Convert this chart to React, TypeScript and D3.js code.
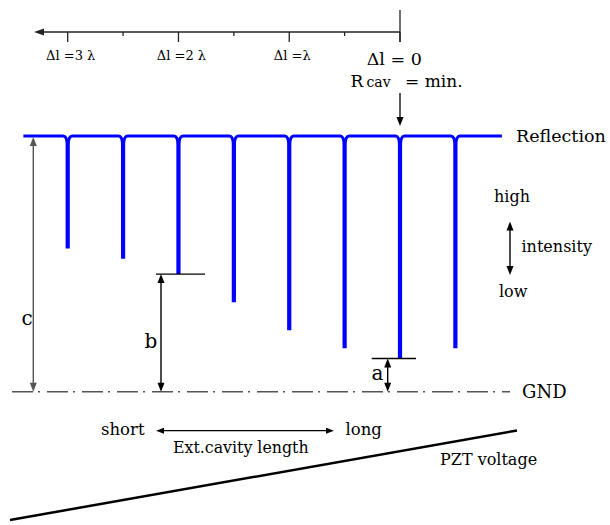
import React from 'react';
import * as d3 from 'd3';

const W = 610;
const H = 525;

// Cavity detuning (in wavelengths) of each reflection dip
const dipDetuning = [3, 2.5, 2, 1.5, 1, 0.5, 0, -0.5];
// Reflected intensity at the bottom of each dip (GND = 0, off-resonance = 1)
const dipIntensity = [0.56, 0.52, 0.46, 0.35, 0.24, 0.17, 0.13, 0.17];
// Extent of the reflection trace, in detuning units
const traceExtent = [3.4, -0.92];
// Top detuning axis
const axisTicks = [3, 2.5, 2, 1.5, 1, 0.5, 0];
const axisLabelAt = [3, 2, 1];
const axisLabelText = ['Δl =3 λ', 'Δl =2 λ', 'Δl =λ'];

const FONT = '"DejaVu Serif", serif';

type Dir = 'up' | 'down' | 'left' | 'right';
function head(tx: number, ty: number, dir: Dir, len = 9, half = 3.5): string {
  const pts: [number, number][] =
    dir === 'up'
      ? [[tx, ty], [tx - half, ty + len], [tx + half, ty + len]]
      : dir === 'down'
      ? [[tx, ty], [tx - half, ty - len], [tx + half, ty - len]]
      : dir === 'left'
      ? [[tx, ty], [tx + len, ty - half], [tx + len, ty + half]]
      : [[tx, ty], [tx - len, ty - half], [tx - len, ty + half]];
  return pts.map((p) => p.join(',')).join(' ');
}

function VArrow({ x, y1, y2, color = '#000', w = 1.4 }: { x: number; y1: number; y2: number; color?: string; w?: number }) {
  return (
    <g>
      <line x1={x} x2={x} y1={y1 + 6} y2={y2 - 6} stroke={color} strokeWidth={w} />
      <polygon points={head(x, y1, 'up')} fill={color} />
      <polygon points={head(x, y2, 'down')} fill={color} />
    </g>
  );
}

export default function App() {
  const x = d3.scaleLinear().domain([3, 0]).range([67.7, 400]);
  const y = d3.scaleLinear().domain([0, 1]).range([391.7, 136]);

  const y1 = y(1);
  const p = d3.path();
  p.moveTo(x(traceExtent[0]), y1);
  dipDetuning.forEach((d, i) => {
    const cx = x(d);
    const yb = y(dipIntensity[i]) - 1.5;
    p.lineTo(cx - 4.5, y1);
    p.quadraticCurveTo(cx - 0.6, y1, cx - 0.6, y1 + 9);
    p.lineTo(cx - 0.6, yb);
    p.lineTo(cx + 0.6, yb);
    p.lineTo(cx + 0.6, y1 + 9);
    p.quadraticCurveTo(cx + 0.6, y1, cx + 4.5, y1);
  });
  p.lineTo(x(traceExtent[1]), y1);

  const yAxis = 32;
  const y0 = y(0);
  const yb = y(dipIntensity[2]);
  const ya = y(dipIntensity[6]);

  return (
    <svg
      width={W}
      height={H}
      style={{ position: 'absolute', left: 0, top: 0, background: '#fff' }}
      fontFamily={FONT}
    >
      {/* detuning axis */}
      <line x1={x(0)} x2={42} y1={yAxis} y2={yAxis} stroke="#222" strokeWidth={1.3} />
      <polygon points={head(34, yAxis, 'left', 10, 3.5)} fill="#222" />
      {axisTicks.map((t) => (
        <line
          key={t}
          x1={x(t)}
          x2={x(t)}
          y1={yAxis}
          y2={yAxis + (Number.isInteger(t) ? 10 : 4)}
          stroke="#222"
          strokeWidth={1.3}
        />
      ))}
      <line x1={x(0)} x2={x(0)} y1={10} y2={42} stroke="#222" strokeWidth={1.3} />
      {axisLabelAt.map((t, i) => (
        <text key={t} x={x(t) + 3} y={59.5} fontSize={13} textAnchor="middle" fill="#000">
          {axisLabelText[i]}
        </text>
      ))}

      <text x={366.7} y={65} fontSize={17.5} fill="#000">Δl = 0</text>
      <text y={86.5} fill="#000">
        <tspan x={350.5} fontSize={17}>R</tspan>
        <tspan x={366.5} fontSize={14}>cav</tspan>
        <tspan x={405} fontSize={17}>= min.</tspan>
      </text>
      <line x1={x(0)} x2={x(0)} y1={93} y2={118} stroke="#000" strokeWidth={1.3} />
      <polygon points={head(x(0), 126, 'down', 9, 3.5)} fill="#000" />

      {/* ground reference */}
      <line
        x1={12}
        x2={510}
        y1={y0}
        y2={y0}
        stroke="#555"
        strokeWidth={1.5}
        strokeDasharray="21 5 2 7"
      />

      {/* reflection trace */}
      <path d={p.toString()} fill="none" stroke="#0000ff" strokeWidth={3} strokeLinejoin="miter" />

      {/* c: full reflection level */}
      <VArrow x={33.3} y1={y1 + 1} y2={y0} color="#555" />
      <text x={27} y={325} fontSize={20} textAnchor="middle" fill="#000">c</text>

      {/* b: intermediate dip */}
      <line x1={156} x2={205} y1={yb} y2={yb} stroke="#000" strokeWidth={1.4} />
      <VArrow x={161} y1={yb} y2={y0} />
      <text x={151} y={348} fontSize={20} textAnchor="middle" fill="#000">b</text>

      {/* a: deepest dip */}
      <line x1={371.7} x2={416} y1={ya} y2={ya} stroke="#000" strokeWidth={1.4} />
      <VArrow x={387.7} y1={ya} y2={y0} />
      <text x={377.5} y={379.5} fontSize={20} textAnchor="middle" fill="#000">a</text>

      {/* right-hand labels */}
      <text x={516} y={142} fontSize={17.5} fill="#000">Reflection</text>
      <text x={494} y={202} fontSize={16} fill="#000">high</text>
      <VArrow x={510} y1={221.5} y2={275} />
      <text x={521.5} y={252} fontSize={16} fill="#000">intensity</text>
      <text x={499} y={297} fontSize={16} fill="#000">low</text>
      <text x={522} y={398} fontSize={18} fill="#000">GND</text>

      {/* cavity length / PZT sweep */}
      <text x={101} y={435} fontSize={16.5} fill="#000">short</text>
      <line x1={162} x2={328} y1={430.7} y2={430.7} stroke="#000" strokeWidth={1.3} />
      <polygon points={head(156, 430.7, 'left', 8, 3)} fill="#000" />
      <polygon points={head(334, 430.7, 'right', 8, 3)} fill="#000" />
      <text x={345.5} y={435} fontSize={16.5} fill="#000">long</text>
      <text x={173} y={452.5} fontSize={15.8} fill="#000">Ext.cavity length</text>
      <text x={440} y={465} fontSize={16} fill="#000">PZT voltage</text>
      <line x1={10} y1={520} x2={517} y2={430.5} stroke="#000" strokeWidth={2.5} />
    </svg>
  );
}
